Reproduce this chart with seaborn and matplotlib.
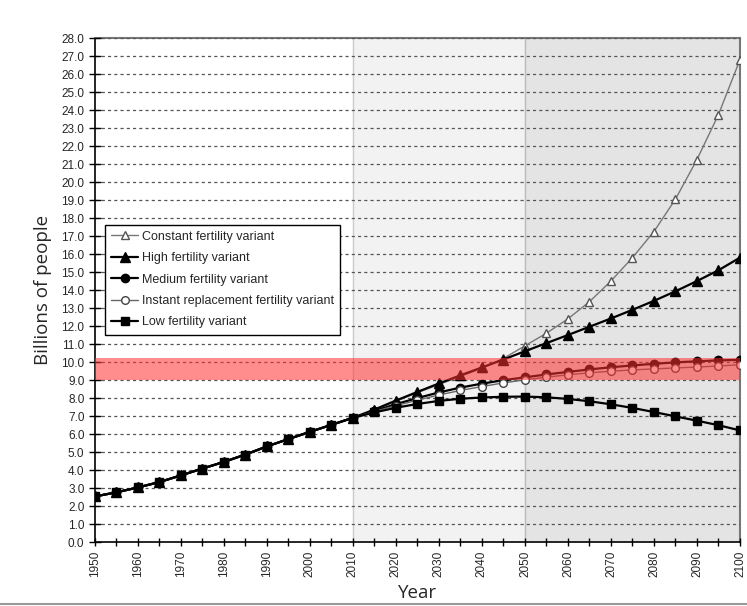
import numpy as np
import pandas as pd
import matplotlib
matplotlib.use("Agg")
import matplotlib.pyplot as plt
import seaborn as sns

# years and series (billions)
years = list(range(1950, 2101, 5))
history = [2.53, 2.76, 3.03, 3.33, 3.70, 4.08, 4.45, 4.86, 5.31, 5.72, 6.12, 6.51, 6.90]
constant = [7.35, 7.82, 8.30, 8.75, 9.20, 9.65, 10.20, 10.90, 11.60, 12.40, 13.35, 14.50,
            15.80, 17.25, 19.05, 21.25, 23.75, 26.80]
high = [7.36, 7.86, 8.34, 8.81, 9.26, 9.70, 10.14, 10.60, 11.05, 11.50, 11.96, 12.42,
        12.90, 13.40, 13.93, 14.50, 15.10, 15.80]
medium = [7.28, 7.66, 8.00, 8.31, 8.58, 8.80, 8.99, 9.15, 9.31, 9.45, 9.59, 9.71,
          9.81, 9.90, 9.98, 10.04, 10.09, 10.12]
instant = [7.25, 7.58, 7.88, 8.17, 8.42, 8.64, 8.84, 9.01, 9.16, 9.29, 9.40, 9.49,
           9.56, 9.62, 9.67, 9.72, 9.78, 9.85]
low = [7.20, 7.46, 7.67, 7.84, 7.96, 8.03, 8.07, 8.08, 8.04, 7.95, 7.82, 7.65,
       7.45, 7.22, 6.98, 6.74, 6.49, 6.20]

names = ["Constant fertility variant", "High fertility variant", "Medium fertility variant",
         "Instant replacement fertility variant", "Low fertility variant"]
values = [constant, high, medium, instant, low]

rows = []
for name, proj in zip(names, values):
    for yr, v in zip(years, history + proj):
        rows.append({"Year": yr, "Variant": name, "Population": v})
df = pd.DataFrame(rows)

sns.set_style("white")
plt.rcParams["font.family"] = ["Liberation Sans", "DejaVu Sans"]

fig = plt.figure(figsize=(7.47, 6.06), dpi=100)
ax = fig.add_axes([0.127, 0.1056, 0.8636, 0.8316])

# shaded projection periods
ax.axvspan(2010, 2050, color="#f2f2f2", zorder=0)
ax.axvspan(2050, 2100, color="#e4e4e4", zorder=0)
ax.axvline(2010, color="#cccccc", lw=1, zorder=0.5)
ax.axvline(2050, color="#bbbbbb", lw=1, zorder=0.5)

styles = {
    "Constant fertility variant": dict(color="#777777", marker="^", mfc="white", mec="#555555", lw=1.0, ms=6),
    "High fertility variant": dict(color="black", marker="^", mfc="black", mec="black", lw=1.6, ms=7),
    "Medium fertility variant": dict(color="black", marker="o", mfc="black", mec="black", lw=1.6, ms=6),
    "Instant replacement fertility variant": dict(color="#666666", marker="o", mfc="white", mec="#444444", lw=1.0, ms=5.5),
    "Low fertility variant": dict(color="black", marker="s", mfc="black", mec="black", lw=1.6, ms=5.5),
}

for name in names:
    st = styles[name]
    sns.lineplot(data=df[df["Variant"] == name], x="Year", y="Population", ax=ax,
                 color=st["color"], marker=st["marker"], markerfacecolor=st["mfc"],
                 markeredgecolor=st["mec"], markeredgewidth=1.0, linewidth=st["lw"],
                 markersize=st["ms"], label=name, zorder=3)

# highlighted band
ax.axhspan(9.0, 10.2, color="#ff3030", alpha=0.55, lw=0, zorder=4)

ax.set_xlim(1950, 2100)
ax.set_ylim(0, 28)
ax.set_yticks(np.arange(0, 28.1, 1.0))
ax.set_yticklabels([f"{v:.1f}" for v in np.arange(0, 28.1, 1.0)])
ax.set_xticks(range(1950, 2101, 10))
ax.set_xticks(range(1955, 2100, 10), minor=True)
ax.tick_params(axis="x", which="both", direction="inout", length=6, width=1, labelsize=8.5,
               labelrotation=90, color="black", bottom=True)
ax.tick_params(axis="y", direction="inout", length=8, width=1, labelsize=8.5, left=True,
               color="black")
ax.yaxis.grid(True, linestyle=(0, (2.5, 2.5)), color="#555555", lw=0.9, zorder=1)
ax.set_axisbelow(False)
for g in ax.get_ygridlines():
    g.set_zorder(1)

for s in ["left", "bottom"]:
    ax.spines[s].set_color("black")
    ax.spines[s].set_linewidth(1.2)
for s in ["top", "right"]:
    ax.spines[s].set_color("#777777")
    ax.spines[s].set_linewidth(1.5)

ax.set_xlabel("Year", fontsize=13.5, family=["Open Sans", "DejaVu Sans"], labelpad=5)
ax.set_ylabel("Billions of people", fontsize=13.5, family=["Open Sans", "DejaVu Sans"], labelpad=7)

leg = ax.legend(loc="upper left", bbox_to_anchor=(0.015, 0.63), borderaxespad=0, fontsize=9,
                frameon=True, fancybox=False, edgecolor="black", framealpha=1, borderpad=0.5,
                labelspacing=0.75, handlelength=2.2, handletextpad=0.3)
leg.get_frame().set_linewidth(1.0)
leg.set_zorder(6)

fig.add_artist(plt.Line2D([0, 1], [0.004, 0.004], color="#999999", lw=1.5))

fig.savefig("out.png", dpi=100)
